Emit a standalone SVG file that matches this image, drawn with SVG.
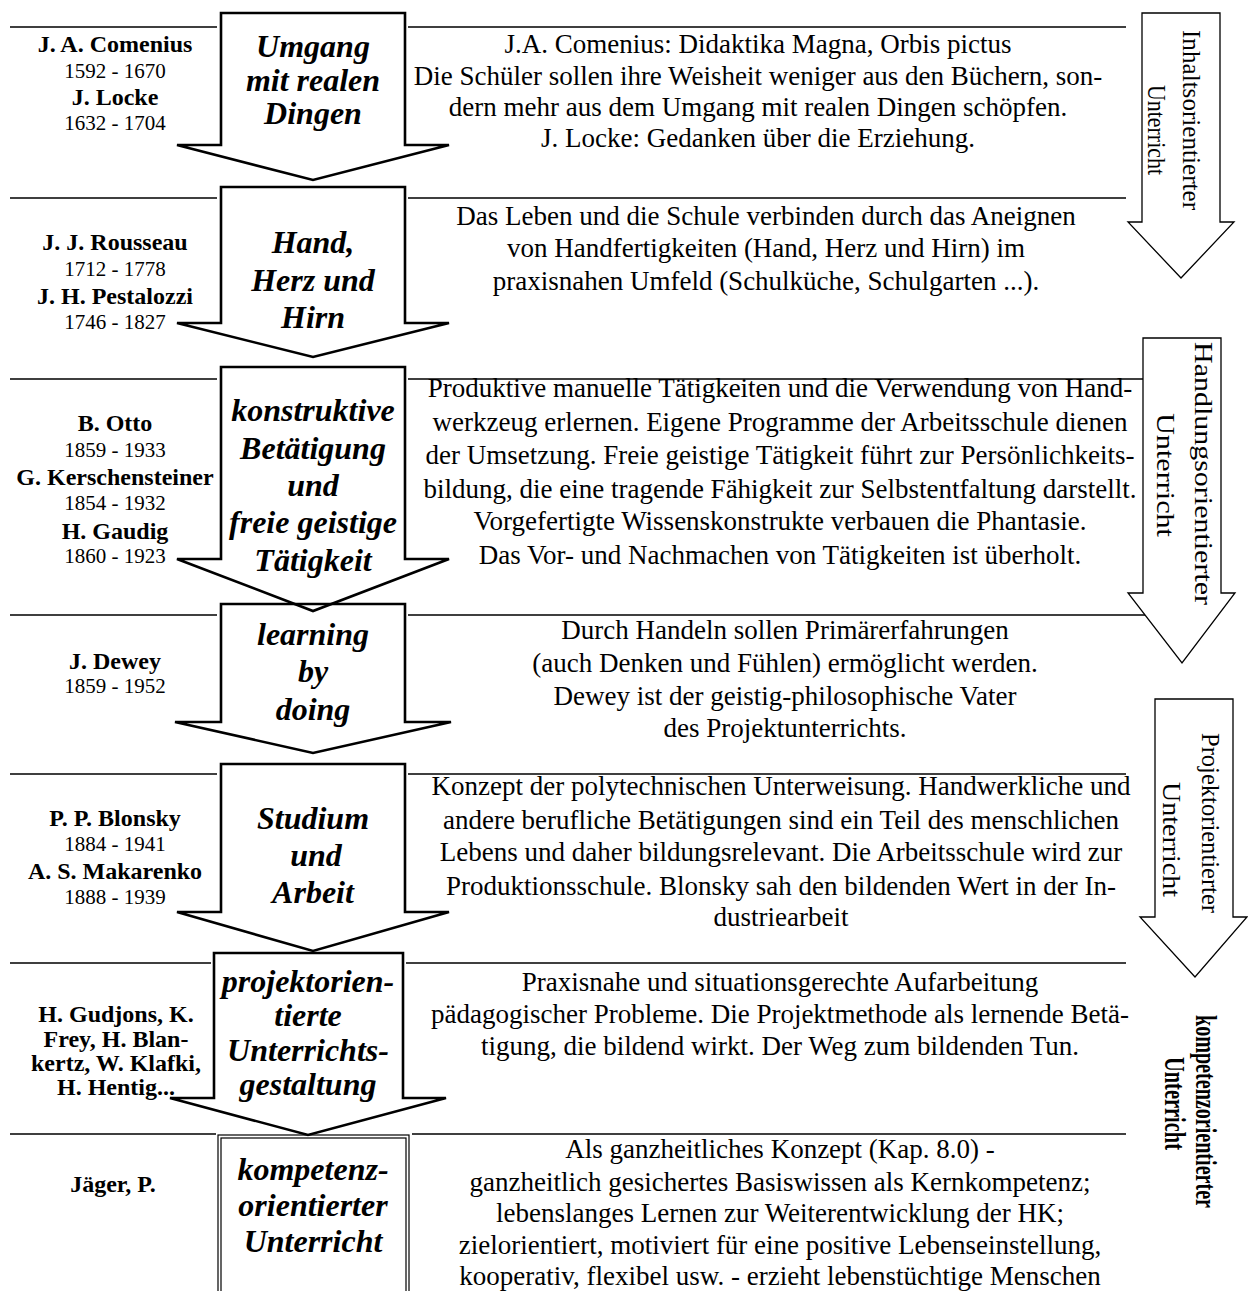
<svg xmlns="http://www.w3.org/2000/svg" width="1248" height="1291" viewBox="0 0 1248 1291">
<style>
.ln{stroke:#000;stroke-width:1.3;fill:none}
.arr{fill:none;stroke:#000;stroke-width:2.6;stroke-linejoin:miter}
.rarr{fill:none;stroke:#000;stroke-width:1.3}
.box{fill:none;stroke:#000;stroke-width:1.2}
text{font-family:"Liberation Serif","Times New Roman",serif;fill:#000}
.nm{font-size:24px;font-weight:bold;text-anchor:middle}
.yr{font-size:21px;text-anchor:middle}
.it{font-size:32px;font-weight:bold;font-style:italic;text-anchor:middle}
.tx{font-size:27px;text-anchor:middle}
.vt{font-size:25px}
.vb{font-size:30px;font-weight:bold}
</style>
<rect width="1248" height="1291" fill="#fff"/>
<g id="connectors">
<path class="ln" d="M10,27H217M408,27H1126"/>
<path class="ln" d="M10,198H217M408,198H1126"/>
<path class="ln" d="M10,379H217M408,379H1143"/>
<path class="ln" d="M10,615H217M408,615H1145"/>
<path class="ln" d="M10,774H217M408,774H1126"/>
<path class="ln" d="M10,963H211M406,963H1126"/>
<path class="ln" d="M10,1134H216M412,1134H1126"/>
</g>
<g id="row1">
<path class="arr" d="M221,13H405V145H449L313,180L177,145H221Z"/>
<text class="nm" x="115" y="52">J. A. Comenius</text>
<text class="yr" x="115" y="78">1592 - 1670</text>
<text class="nm" x="115" y="105">J. Locke</text>
<text class="yr" x="115" y="130">1632 - 1704</text>
<text class="it" x="313" y="57">Umgang</text>
<text class="it" x="313" y="91">mit realen</text>
<text class="it" x="313" y="124">Dingen</text>
<text class="tx" x="758" y="53">J.A. Comenius: Didaktika Magna, Orbis pictus</text>
<text class="tx" x="758" y="85">Die Schüler sollen ihre Weisheit weniger aus den Büchern, son-</text>
<text class="tx" x="758" y="116">dern mehr aus dem Umgang mit realen Dingen schöpfen.</text>
<text class="tx" x="758" y="147">J. Locke: Gedanken über die Erziehung.</text>
</g>
<g id="row2">
<path class="arr" d="M221,187H405V323H449L313,357L177,323H221Z"/>
<text class="nm" x="115" y="250">J. J. Rousseau</text>
<text class="yr" x="115" y="276">1712 - 1778</text>
<text class="nm" x="115" y="304">J. H. Pestalozzi</text>
<text class="yr" x="115" y="329">1746 - 1827</text>
<text class="it" x="313" y="253">Hand,</text>
<text class="it" x="313" y="291">Herz und</text>
<text class="it" x="313" y="328">Hirn</text>
<text class="tx" x="766" y="225">Das Leben und die Schule verbinden durch das Aneignen</text>
<text class="tx" x="766" y="257">von Handfertigkeiten (Hand, Herz und Hirn) im</text>
<text class="tx" x="766" y="290">praxisnahen Umfeld (Schulküche, Schulgarten ...).</text>
</g>
<g id="row3">
<path class="arr" d="M221,367H405V559H449L313,611L177,559H221Z"/>
<text class="nm" x="115" y="431">B. Otto</text>
<text class="yr" x="115" y="457">1859 - 1933</text>
<text class="nm" x="115" y="485">G. Kerschensteiner</text>
<text class="yr" x="115" y="510">1854 - 1932</text>
<text class="nm" x="115" y="539">H. Gaudig</text>
<text class="yr" x="115" y="563">1860 - 1923</text>
<text class="it" x="313" y="421">konstruktive</text>
<text class="it" x="313" y="459">Betätigung</text>
<text class="it" x="313" y="496">und</text>
<text class="it" x="313" y="533">freie geistige</text>
<text class="it" x="313" y="571">Tätigkeit</text>
<text class="tx" x="780" y="397">Produktive manuelle Tätigkeiten und die Verwendung von Hand-</text>
<text class="tx" x="780" y="431">werkzeug erlernen. Eigene Programme der Arbeitsschule dienen</text>
<text class="tx" x="780" y="464">der Umsetzung. Freie geistige Tätigkeit führt zur Persönlichkeits-</text>
<text class="tx" x="780" y="498">bildung, die eine tragende Fähigkeit zur Selbstentfaltung darstellt.</text>
<text class="tx" x="780" y="530">Vorgefertigte Wissenskonstrukte verbauen die Phantasie.</text>
<text class="tx" x="780" y="564">Das Vor- und Nachmachen von Tätigkeiten ist überholt.</text>
</g>
<g id="row4">
<path class="arr" d="M221,604H405V722H451L313,753L175,722H221Z"/>
<text class="nm" x="115" y="669">J. Dewey</text>
<text class="yr" x="115" y="693">1859 - 1952</text>
<text class="it" x="313" y="645">learning</text>
<text class="it" x="313" y="682">by</text>
<text class="it" x="313" y="720">doing</text>
<text class="tx" x="785" y="639">Durch Handeln sollen Primärerfahrungen</text>
<text class="tx" x="785" y="672">(auch Denken und Fühlen) ermöglicht werden.</text>
<text class="tx" x="785" y="705">Dewey ist der geistig-philosophische Vater</text>
<text class="tx" x="785" y="737">des Projektunterrichts.</text>
</g>
<g id="row5">
<path class="arr" d="M221,764H405V912H449L313,951L177,912H221Z"/>
<text class="nm" x="115" y="826">P. P. Blonsky</text>
<text class="yr" x="115" y="851">1884 - 1941</text>
<text class="nm" x="115" y="879">A. S. Makarenko</text>
<text class="yr" x="115" y="904">1888 - 1939</text>
<text class="it" x="313" y="829">Studium</text>
<text class="it" x="316" y="866">und</text>
<text class="it" x="313" y="903">Arbeit</text>
<text class="tx" x="781" y="795">Konzept der polytechnischen Unterweisung. Handwerkliche und</text>
<text class="tx" x="781" y="829">andere berufliche Betätigungen sind ein Teil des menschlichen</text>
<text class="tx" x="781" y="861">Lebens und daher bildungsrelevant. Die Arbeitsschule wird zur</text>
<text class="tx" x="781" y="895">Produktionsschule. Blonsky sah den bildenden Wert in der In-</text>
<text class="tx" x="781" y="926">dustriearbeit</text>
</g>
<g id="row6">
<path class="arr" d="M214,953H403V1098H446L308,1135L170,1098H214Z"/>
<text class="nm" x="116" y="1022">H. Gudjons, K.</text>
<text class="nm" x="116" y="1047">Frey, H. Blan-</text>
<text class="nm" x="116" y="1071">kertz, W. Klafki,</text>
<text class="nm" x="116" y="1095">H. Hentig...</text>
<text class="it" x="308" y="992">projektorien-</text>
<text class="it" x="308" y="1026">tierte</text>
<text class="it" x="308" y="1061">Unterrichts-</text>
<text class="it" x="308" y="1095">gestaltung</text>
<text class="tx" x="780" y="991">Praxisnahe und situationsgerechte Aufarbeitung</text>
<text class="tx" x="780" y="1023">pädagogischer Probleme. Die Projektmethode als lernende Betä-</text>
<text class="tx" x="780" y="1055">tigung, die bildend wirkt. Der Weg zum bildenden Tun.</text>
</g>
<g id="row7">
<rect class="box" x="218" y="1135" width="191" height="170"/>
<rect class="box" x="221" y="1138" width="185" height="170"/>
<text class="nm" x="113" y="1192">Jäger, P.</text>
<text class="it" x="313" y="1180">kompetenz-</text>
<text class="it" x="313" y="1216">orientierter</text>
<text class="it" x="313" y="1252">Unterricht</text>
<text class="tx" x="780" y="1158">Als ganzheitliches Konzept (Kap. 8.0) -</text>
<text class="tx" x="780" y="1191">ganzheitlich gesichertes Basiswissen als Kernkompetenz;</text>
<text class="tx" x="780" y="1222">lebenslanges Lernen zur Weiterentwicklung der HK;</text>
<text class="tx" x="780" y="1254">zielorientiert, motiviert für eine positive Lebenseinstellung,</text>
<text class="tx" x="780" y="1285">kooperativ, flexibel usw. - erzieht lebenstüchtige Menschen</text>
</g>
<g id="side-inhalt">
<path class="rarr" d="M1142,13H1220V222H1234L1181,278L1128,222H1142Z"/>
<text class="vt" transform="translate(1183,30) rotate(90)" textLength="180" lengthAdjust="spacingAndGlyphs">Inhaltsorientierter</text>
<text class="vt" transform="translate(1148,85) rotate(90)" textLength="90" lengthAdjust="spacingAndGlyphs">Unterricht</text>
</g>
<g id="side-handlung">
<path class="rarr" d="M1143,338H1221V593H1235L1182,663L1128,593H1143Z"/>
<text class="vt" transform="translate(1195,342) rotate(90)" textLength="263" lengthAdjust="spacingAndGlyphs">Handlungsorientierter</text>
<text class="vt" transform="translate(1157,413) rotate(90)" textLength="124" lengthAdjust="spacingAndGlyphs">Unterricht</text>
</g>
<g id="side-projekt">
<path class="rarr" d="M1155,699H1233V917H1247L1195,977L1140,917H1155Z"/>
<text class="vt" transform="translate(1202,733) rotate(90)" textLength="180" lengthAdjust="spacingAndGlyphs">Projektorientierter</text>
<text class="vt" transform="translate(1163,782) rotate(90)" textLength="115" lengthAdjust="spacingAndGlyphs">Unterricht</text>
</g>
<g id="side-kompetenz">
<text class="vb" transform="translate(1196,1015) rotate(90)" textLength="193" lengthAdjust="spacingAndGlyphs">kompetenzorientierter</text>
<text class="vb" transform="translate(1165,1057) rotate(90)" textLength="93" lengthAdjust="spacingAndGlyphs">Unterricht</text>
</g>
</svg>
